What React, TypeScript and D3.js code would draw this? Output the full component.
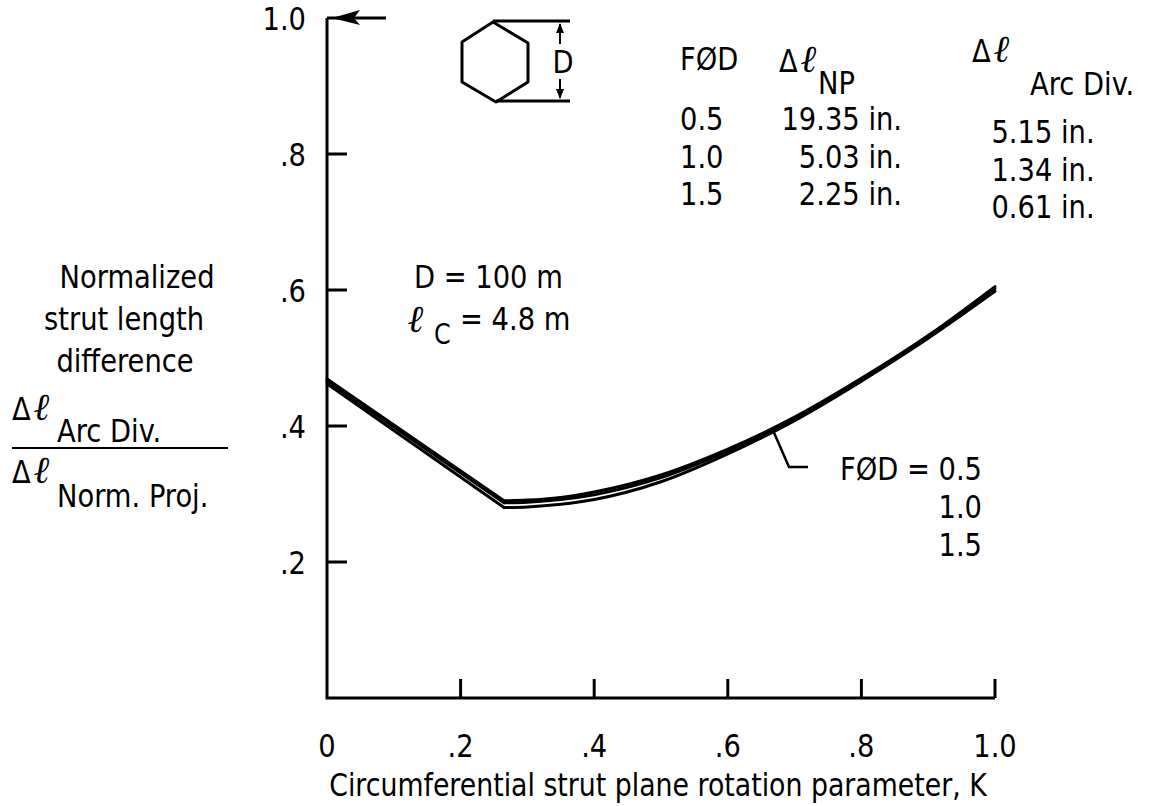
import React from 'react';
import * as d3 from 'd3';

// rotation parameter K (x) and normalized strut length difference (y)
const kValues = [0, 0.265, 0.3, 0.35, 0.4, 0.5, 0.6, 0.7, 0.8, 0.9, 1.0];
const fod05 = [0.469, 0.29, 0.291, 0.295, 0.303, 0.328, 0.366, 0.413, 0.47, 0.533, 0.605];
const fod10 = [0.466, 0.287, 0.288, 0.292, 0.299, 0.324, 0.363, 0.41, 0.468, 0.531, 0.602];
const fod15 = [0.462, 0.28, 0.281, 0.285, 0.292, 0.318, 0.359, 0.408, 0.466, 0.529, 0.598];
const seriesList = [fod05, fod10, fod15];

const xTicks = [0, 0.2, 0.4, 0.6, 0.8, 1.0];
const xTickLabels = ['0', '.2', '.4', '.6', '.8', '1.0'];
const yTicks = [0.2, 0.4, 0.6, 0.8, 1.0];
const yTickLabels = ['.2', '.4', '.6', '.8', '1.0'];

// table in the upper right
const tableFod = ['0.5', '1.0', '1.5'];
const tableNP = ['19.35 in.', '5.03 in.', '2.25 in.'];
const tableArc = ['5.15 in.', '1.34 in.', '0.61 in.'];
const legendFod = ['FØD = 0.5', '1.0', '1.5'];

const FONT = "'DejaVu Sans Condensed', 'DejaVu Sans', sans-serif";

function Txt({ x, y, anchor = 'start', size = 32, sx = 0.95, children }: any) {
  return (
    <text
      transform={`translate(${x},${y}) scale(${sx},1)`}
      textAnchor={anchor}
      style={{ fontFamily: FONT, fontSize: size, fill: '#000' }}
    >
      {children}
    </text>
  );
}

function Ell({ x, y, size = 38 }: any) {
  return (
    <text
      x={x}
      y={y}
      style={{ fontFamily: "'DejaVu Serif', serif", fontStyle: 'italic', fontWeight: 'bold', fontSize: size, fill: '#000' }}
    >
      ℓ
    </text>
  );
}

export default function App() {
  const x = d3.scaleLinear().domain([0, 1]).range([327, 995]);
  const y = d3.scaleLinear().domain([0, 1]).range([698, 18]);

  // straight drop to the kink, smooth rise after it
  const straight = d3.line<number>().x((d, i) => x(kValues[i])).y(d => y(d));
  const smooth = d3
    .line<number>()
    .x((d, i) => x(kValues[i + 1]))
    .y(d => y(d))
    .curve(d3.curveMonotoneX);

  const hex: [number, number][] = [
    [493, 22], [528, 43], [528, 82], [496, 102], [462, 82], [462, 42],
  ];

  return (
    <svg width={1153} height={806} style={{ position: 'absolute', left: 0, top: 0, background: '#fff' }}>
      {/* axes */}
      <path
        d={`M${x(0)},${y(1)} L${x(0)},${y(0)} L${x(1)},${y(0)}`}
        fill="none"
        stroke="#000"
        strokeWidth={3}
      />
      {xTicks.slice(1).map(t => (
        <line key={'xt' + t} x1={x(t)} x2={x(t)} y1={y(0)} y2={y(0) - 19} stroke="#000" strokeWidth={3} />
      ))}
      {yTicks.slice(0, -1).map(t => (
        <line key={'yt' + t} x1={x(0)} x2={x(0) + 20} y1={y(t)} y2={y(t)} stroke="#000" strokeWidth={3} />
      ))}
      {/* arrow at top of y axis */}
      <line x1={x(0)} x2={386} y1={y(1)} y2={y(1)} stroke="#000" strokeWidth={3} />
      <path d={`M${x(0) + 5},${y(1)} L360,${y(1) - 8} L354,${y(1)} L360,${y(1) + 7} Z`} fill="#000" />

      {xTicks.map((t, i) => (
        <Txt key={'xl' + t} x={x(t)} y={757} anchor="middle">
          {xTickLabels[i]}
        </Txt>
      ))}
      {yTicks.map((t, i) => (
        <Txt key={'yl' + t} x={306} y={y(t) + 12} anchor="end">
          {yTickLabels[i]}
        </Txt>
      ))}

      <Txt x={658} y={796} anchor="middle" sx={0.93}>
        Circumferential strut plane rotation parameter, K
      </Txt>

      {/* y axis label */}
      <Txt x={137} y={288} anchor="middle">Normalized</Txt>
      <Txt x={124} y={330} anchor="middle">strut length</Txt>
      <Txt x={125} y={372} anchor="middle">difference</Txt>
      <Txt x={12} y={420}>Δ</Txt>
      <Ell x={34} y={420} />
      <Txt x={57} y={442}>Arc Div.</Txt>
      <line x1={12} x2={228} y1={448} y2={448} stroke="#000" strokeWidth={2} />
      <Txt x={12} y={483}>Δ</Txt>
      <Ell x={34} y={483} />
      <Txt x={57} y={507}>Norm. Proj.</Txt>

      {/* curves */}
      {seriesList.map((s, i) => (
        <g key={'s' + i} fill="none" stroke="#000" strokeWidth={3} strokeLinejoin="round" strokeLinecap="round">
          <path d={straight(s.slice(0, 2)) || ''} />
          <path d={smooth(s.slice(1)) || ''} />
        </g>
      ))}

      {/* leader and curve legend */}
      <path d="M772,428 L789,467 L808,467" fill="none" stroke="#000" strokeWidth={2.5} />
      {legendFod.map((t, i) => (
        <Txt key={'lg' + i} x={982} y={480 + i * 38} anchor="end">
          {t}
        </Txt>
      ))}

      {/* hexagon sketch */}
      <polygon points={hex.map(p => p.join(',')).join(' ')} fill="none" stroke="#000" strokeWidth={3} strokeLinejoin="round" />
      <line x1={493} x2={570} y1={21} y2={21} stroke="#000" strokeWidth={3} />
      <line x1={496} x2={570} y1={101} y2={101} stroke="#000" strokeWidth={3} />
      <line x1={560} x2={560} y1={24} y2={44} stroke="#000" strokeWidth={2} />
      <line x1={560} x2={560} y1={79} y2={98} stroke="#000" strokeWidth={2} />
      <path d="M560,23 L556,33 L564,33 Z" fill="#000" />
      <path d="M560,99 L556,89 L564,89 Z" fill="#000" />
      <Txt x={563} y={73} anchor="middle">D</Txt>

      {/* geometry note */}
      <Txt x={414} y={288}>D = 100 m</Txt>
      <Ell x={408} y={332} />
      <Txt x={434} y={344} size={28}>C</Txt>
      <Txt x={460} y={330}>= 4.8 m</Txt>

      {/* table */}
      <Txt x={680} y={70}>FØD</Txt>
      <Txt x={779} y={72}>Δ</Txt>
      <Ell x={801} y={72} />
      <Txt x={818} y={94}>NP</Txt>
      <Txt x={972} y={62}>Δ</Txt>
      <Ell x={994} y={62} />
      <Txt x={1030} y={95}>Arc Div.</Txt>
      {tableFod.map((t, i) => (
        <Txt key={'tf' + i} x={680} y={130 + i * 37.5}>{t}</Txt>
      ))}
      {tableNP.map((t, i) => (
        <Txt key={'tn' + i} x={902} y={130 + i * 37.5} anchor="end">{t}</Txt>
      ))}
      {tableArc.map((t, i) => (
        <Txt key={'ta' + i} x={1043} y={143 + i * 37.5} anchor="middle">{t}</Txt>
      ))}
    </svg>
  );
}
